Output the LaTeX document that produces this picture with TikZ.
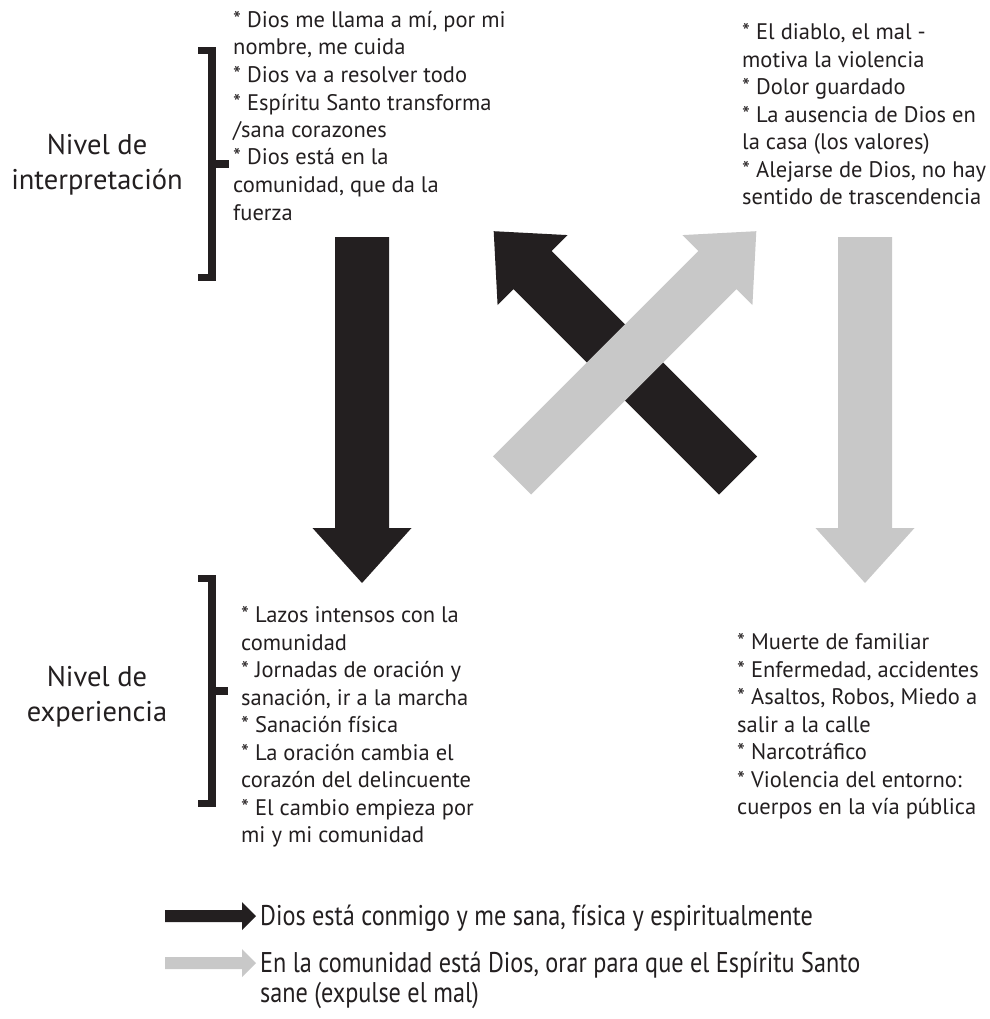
\documentclass[tikz,border=0pt]{standalone}
\usepackage{fontspec}
\setmainfont{PT Sans}
\newfontfamily\legendfont[FakeStretch=0.85]{PT Sans}
\definecolor{ink}{RGB}{35,31,32}
\definecolor{lgray}{RGB}{200,200,200}
\newcommand{\fs}{\rule{0pt}{20pt}}
\newcommand{\ls}{\rule{0pt}{24pt}}
\tikzset{
  body/.style={anchor=north west, inner sep=0pt, align=left, text=ink, font=\fontsize{22.5}{27.5}\selectfont},
  level/.style={anchor=north, inner sep=0pt, align=center, text=ink, font=\fontsize{28.5}{35}\selectfont},
  legendtext/.style={anchor=north west, inner sep=0pt, align=left, text=ink, font=\legendfont\fontsize{28.5}{30}\selectfont},
  brack/.style={draw=ink, line width=7.6pt, line join=miter, line cap=butt},
  pics/fatarrow/.style n args={4}{code={
    \path[pic actions] (0,{-#2/2}) -- ({#1-#4},{-#2/2}) -- ({#1-#4},{-#3/2}) -- (#1,0)
      -- ({#1-#4},{#3/2}) -- ({#1-#4},{#2/2}) -- (0,{#2/2}) -- cycle;}}
}
\begin{document}
\begin{tikzpicture}[x=1pt,y=1pt]
\useasboundingbox (0,0) rectangle (989,-1019);
\fill[white] (0,0) rectangle (989,-1019);

% level labels
\node[level] (lvlint) at (97,-130) {\ls Nivel de\\interpretación};
\node[level] (lvlexp) at (97,-662) {\ls Nivel de\\experiencia};

% brackets
\coordinate (b1t) at (198,-50.5);
\coordinate (b1b) at (198,-277.5);
\coordinate (b1m) at (228.5,-163.8);
\draw[brack] (b1t) -| (212.2,-277.5) -- (b1b);
\draw[brack] (212.2,-163.8) -- (b1m);
\coordinate (b2t) at (198,-578.3);
\coordinate (b2b) at (198,-803.3);
\coordinate (b2m) at (228,-690.8);
\draw[brack] (b2t) -| (212.2,-803.3) -- (b2b);
\draw[brack] (212.2,-690.8) -- (b2m);

% text blocks
\node[body] (tl) at (233,-7.3) {\fs* Dios me llama a mí, por mi\\nombre, me cuida\\* Dios va a resolver todo\\* Espíritu Santo transforma\\/sana corazones\\* Dios está en la\\comunidad, que da la\\fuerza};
\node[body] (tr) at (742,-19.3) {\fs* El diablo, el mal -\\motiva la violencia\\* Dolor guardado\\* La ausencia de Dios en\\la casa (los valores)\\* Alejarse de Dios, no hay\\sentido de trascendencia};
\node[body] (bl) at (241,-602.7) {\fs* Lazos intensos con la\\comunidad\\* Jornadas de oración y\\sanación, ir a la marcha\\* Sanación física\\* La oración cambia el\\corazón del delincuente\\* El cambio empieza por\\mi y mi comunidad};
\node[body] (br) at (737,-629.5) {\fs* Muerte de familiar\\* Enfermedad, accidentes\\* Asaltos, Robos, Miedo a\\salir a la calle\\* Narcotráfico\\* Violencia del entorno:\\cuerpos en la vía pública};

% big arrows
\coordinate (bdown) at (362,-237);
\coordinate (gdown) at (865,-237);
\coordinate (bdiag) at (738,-475.5);
\coordinate (gdiag) at (512,-475.5);
\pic[fill=ink, rotate=-90] at (bdown) {fatarrow={346}{54}{99}{55}};
\pic[fill=lgray, rotate=-90] at (gdown) {fatarrow={346}{54}{99}{55}};
\pic[fill=ink, rotate=135] at (bdiag) {fatarrow={345.5}{54}{99}{55}};
\pic[fill=lgray, rotate=45] at (gdiag) {fatarrow={345.5}{54}{99}{55}};

% legend
\coordinate (lg1) at (165,-916);
\coordinate (lg2) at (165,-963);
\pic[fill=ink] at (lg1) {fatarrow={91}{12}{28}{14}};
\pic[fill=lgray] at (lg2) {fatarrow={91}{12}{28}{14}};
\node[legendtext] (lt1) at (260,-901) {\ls Dios está conmigo y me sana, física y espiritualmente};
\node[legendtext] (lt2) at (260,-948) {\ls En la comunidad está Dios, orar para que el Espíritu Santo\\sane (expulse el mal)};
\end{tikzpicture}
\end{document}
